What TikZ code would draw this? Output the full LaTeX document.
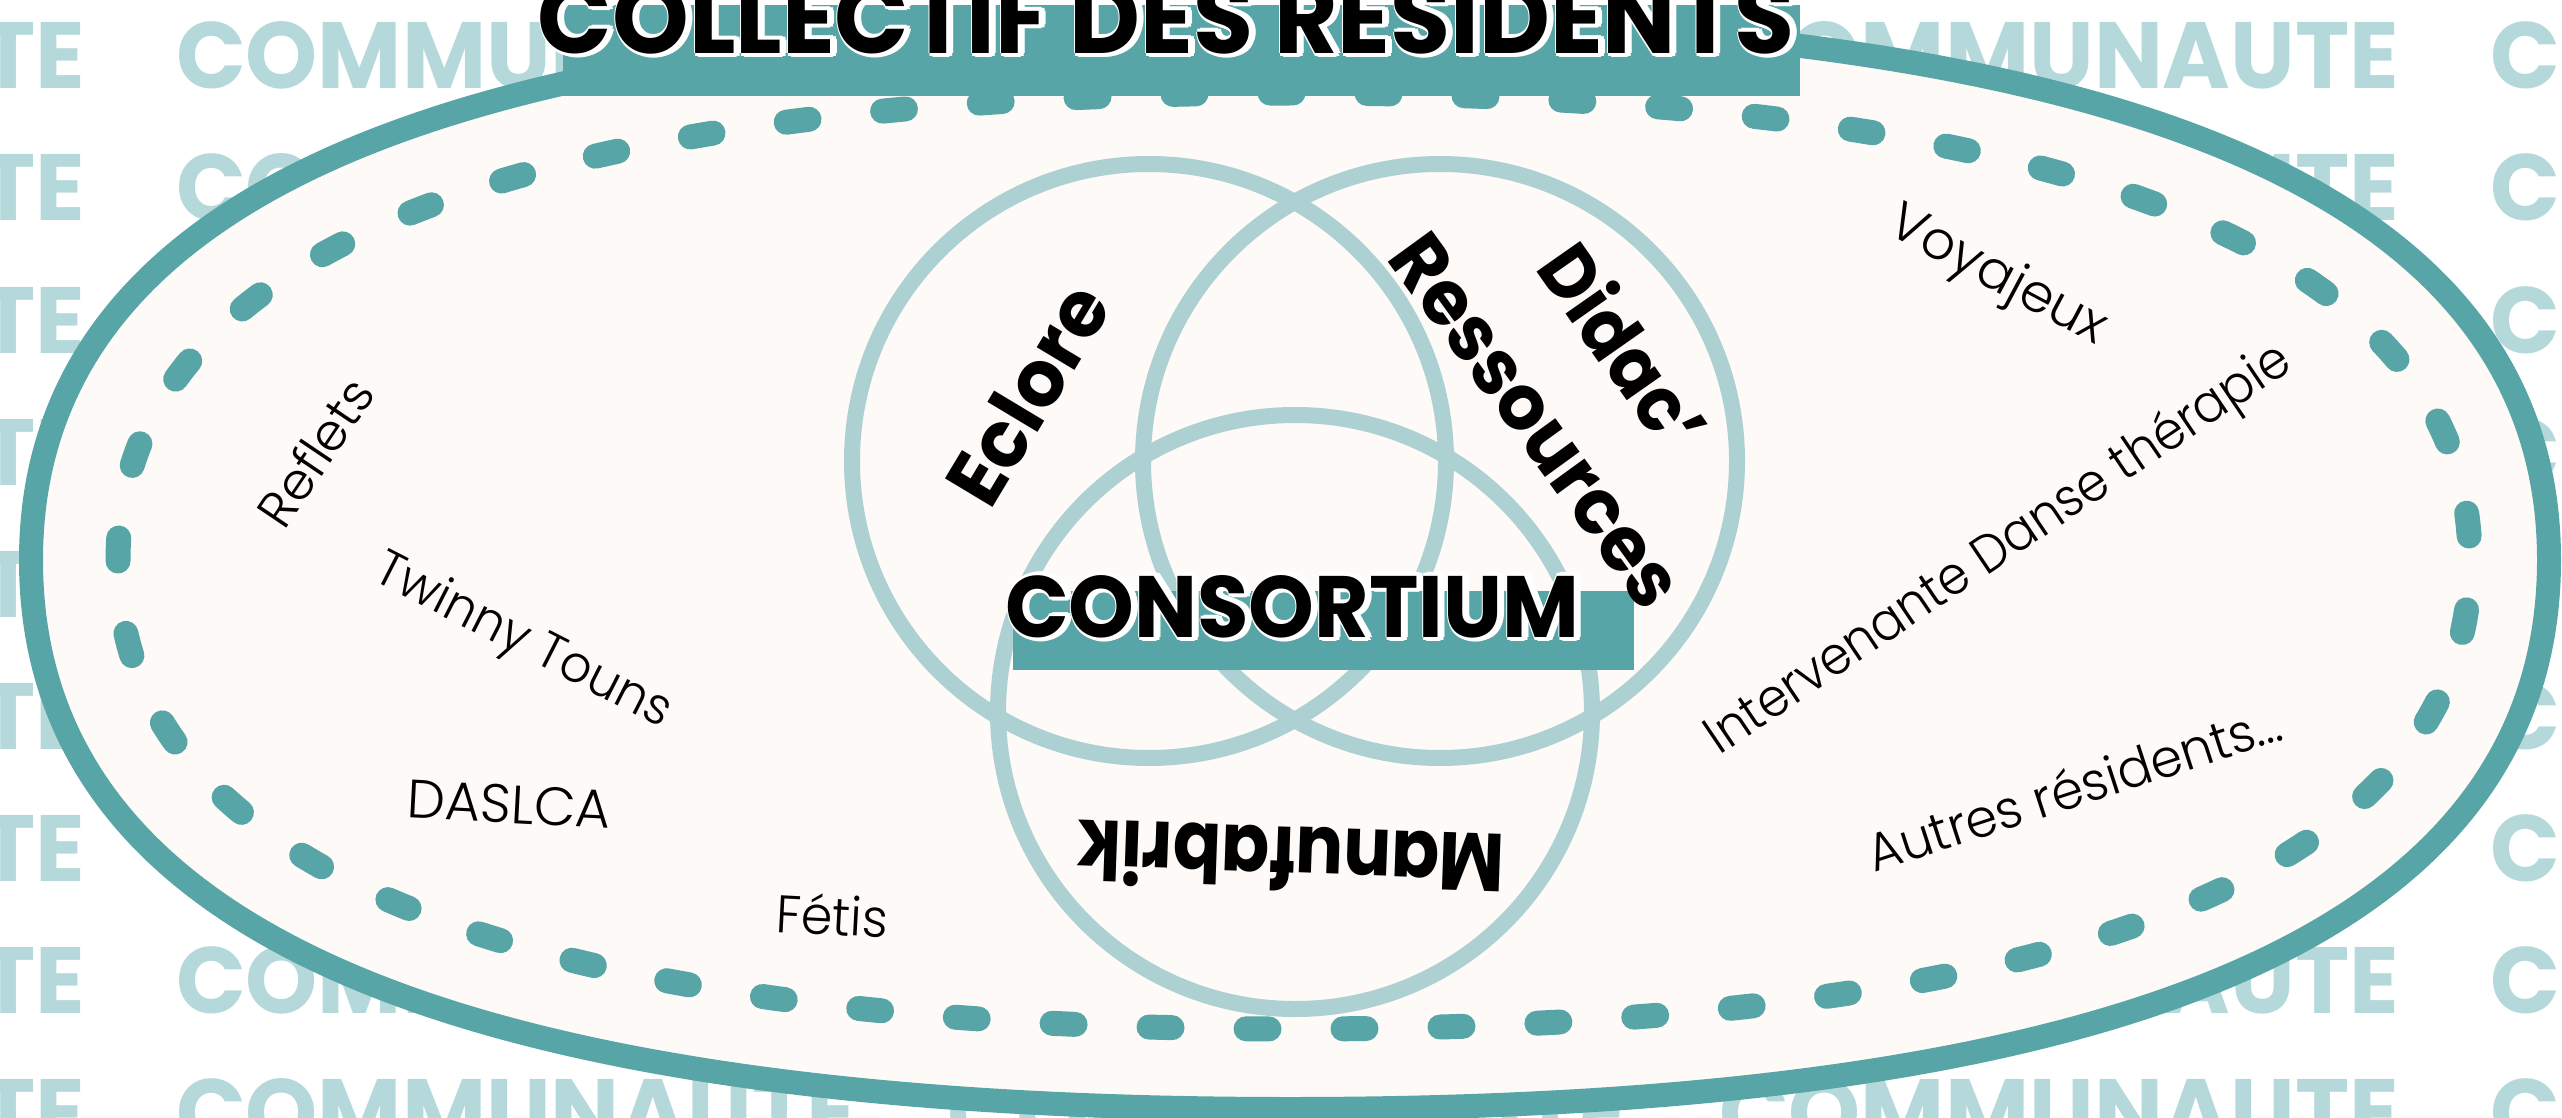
\documentclass[tikz,border=0pt]{standalone}
\usepackage{fontspec}
\setmainfont{Poppins}
\newfontfamily\lightfont{Poppins Light}
\usepackage{graphicx}
\definecolor{tealA}{RGB}{87,165,166}
\definecolor{circA}{RGB}{173,209,210}
\definecolor{wmA}{RGB}{181,217,218}
\definecolor{creamA}{RGB}{253,250,247}
\newcommand\fitbox[4]{{#1\fontsize{#2}{#2}\selectfont\resizebox{#3}{\height}{#4}}}
\newcommand\fitboxh[4]{{#1\fontsize{96pt}{96pt}\selectfont\resizebox{#2}{#3}{#4}}}
\tikzset{
  lbl/.style={anchor=base, inner sep=0pt, outer sep=0pt, text=black},
  wmk/.style={anchor=base west, inner sep=0pt, outer sep=0pt, text=wmA},
  venn/.style={draw=circA, line width=16pt},
  band/.style={fill=tealA, draw=none}
}
\begin{document}
\begin{tikzpicture}[x=1pt,y=-1pt]
\useasboundingbox (0,0) rectangle (2562,1118);
\clip (0,0) rectangle (2562,1118);
\fill[white] (0,0) rectangle (2562,1118);
% watermark
\foreach \r in {0,...,8}{
  \foreach \c in {-595,176,947,1719,2490}{
    \node[wmk, name=wm\r x\c] at (\c,{89+132*\r}) {\fitboxh{\bfseries}{680pt}{67pt}{COMMUNAUTE}};
  }
}
% outer shape
\draw[tealA, line width=24pt, fill=creamA]
  (31,560) .. controls (31,197) and (446,18) .. (1290,18)
  .. controls (2134,18) and (2549,197) .. (2549,560)
  .. controls (2549,928) and (2134,1109) .. (1290,1109)
  .. controls (446,1109) and (31,928) .. (31,560) -- cycle;
% inner dashed
\draw[tealA, line width=25pt, line cap=round, dash pattern=on 23pt off 74pt]
  (118,561) .. controls (118,252) and (518,93) .. (1294,93)
  .. controls (2070,93) and (2470,252) .. (2470,561)
  .. controls (2470,870) and (2070,1029) .. (1294,1029)
  .. controls (518,1029) and (118,870) .. (118,561);
% venn circles
\draw[venn] (1149,461) circle[radius=297pt];
\draw[venn] (1440,461) circle[radius=297pt];
\draw[venn] (1295,712) circle[radius=297pt];
% consortium band
\fill[band] (1013,591) rectangle (1634,670);
\foreach \dx/\dy [count=\i] in {-1/0,7/0,3/4,3/-4,6/3,0/3,6/-3,0/-3}{
  \node[lbl, text=white, name=cw\i, xshift=\dx pt, yshift=\dy pt] at (1292,637) {\fitboxh{\bfseries}{574pt}{62pt}{CONSORTIUM}};
}
\node[lbl, name=consortium] at (1292,637) {\fitboxh{\bfseries}{574pt}{62pt}{CONSORTIUM}};
% circle labels
\node[lbl, rotate=59, name=eclore] at (1052,409) {\fitbox{\bfseries}{79pt}{240pt}{Eclore}};
\node[lbl, rotate=-55, name=didac] at (1600,363) {\fitbox{\bfseries}{76pt}{230pt}{Didac'}};
\node[lbl, rotate=-54, name=ressources] at (1515,436) {\fitbox{\bfseries}{77pt}{440pt}{Ressources}};
\node[lbl, rotate=178, name=manufabrik] at (1292,827) {\fitbox{\bfseries}{82pt}{428pt}{Manufabrik}};
% residents
\node[lbl, rotate=56, name=reflets] at (331,463) {\fitbox{\lightfont}{51pt}{166pt}{Reflets}};
\node[lbl, rotate=-27, name=twinny] at (517,654) {\fitbox{\lightfont}{51pt}{326pt}{Twinny Touns}};
\node[lbl, rotate=-3, name=daslca] at (508,823) {\fitbox{\lightfont}{54pt}{204pt}{DASLCA}};
\node[lbl, rotate=-3, name=fetis] at (831,935) {\fitbox{\lightfont}{53pt}{112pt}{Fétis}};
\node[lbl, rotate=-28, name=voyajeux] at (1991,289) {\fitbox{\lightfont}{53pt}{239pt}{Voyajeux}};
\node[lbl, rotate=34, name=danse] at (2007,562) {\fitbox{\lightfont}{53pt}{693pt}{Intervenante Danse thérapie}};
\node[lbl, rotate=18, name=autres] at (2080,806) {\fitbox{\lightfont}{53pt}{432pt}{Autres résidents...}};
% title band
\fill[band] (563,5) rectangle (1800,96);
\foreach \dx/\dy [count=\i] in {-1/0,7/0,3/4,3/-4,6/3,0/3,6/-3,0/-3}{
  \node[lbl, text=white, name=tw\i, xshift=\dx pt, yshift=\dy pt] at (1166,54) {\fitboxh{\bfseries}{1256pt}{72pt}{COLLECTIF DES RESIDENTS}};
}
\node[lbl, name=title] at (1166,54) {\fitboxh{\bfseries}{1256pt}{72pt}{COLLECTIF DES RESIDENTS}};
\end{tikzpicture}
\end{document}
